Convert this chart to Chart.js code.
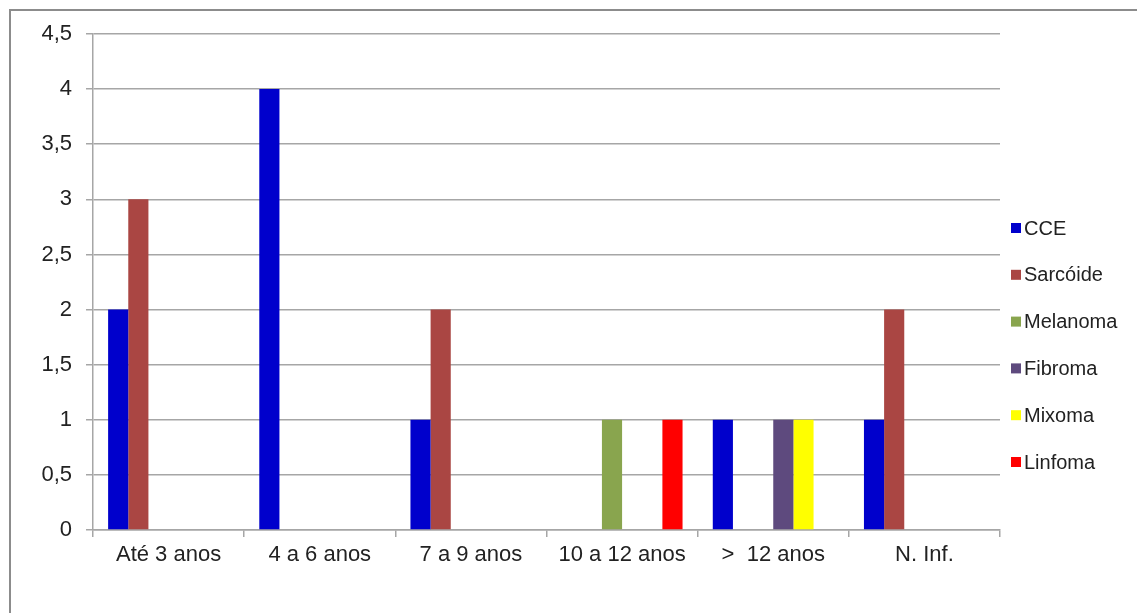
<!DOCTYPE html>
<html>
<head>
<meta charset="utf-8">
<script src="https://cdn.jsdelivr.net/npm/chart.js@4"></script>
<style>
html,body{margin:0;padding:0;background:#fff;}
#wrap{position:absolute;left:0;top:0;width:1137px;height:613px;}
#frame{position:absolute;left:9px;top:9px;width:1140px;height:620px;border-top:2px solid #8c8c8c;border-left:2px solid #8c8c8c;pointer-events:none;}
canvas{position:absolute;left:0;top:0;}
</style>
</head>
<body>
<div id="wrap"><canvas id="c" width="1137" height="613"></canvas><div id="frame"></div></div>
<script>
const categories = ["Até 3 anos", "4 a 6 anos", "7 a 9 anos", "10 a 12 anos", ">  12 anos", "N. Inf."];
const seriesNames = ["CCE", "Sarcóide", "Melanoma", "Fibroma", "Mixoma", "Linfoma"];
const cce      = [2, 4, 1, 0, 1, 1];
const sarcoide = [3, 0, 2, 0, 0, 2];
const melanoma = [0, 0, 0, 1, 0, 0];
const fibroma  = [0, 0, 0, 0, 1, 0];
const mixoma   = [0, 0, 0, 0, 1, 0];
const linfoma  = [0, 0, 0, 1, 0, 0];
const colors = ["#0000CC", "#AA4643", "#89A54E", "#5E4A7E", "#FFFF00", "#FF0000"];
const values = [cce, sarcoide, melanoma, fibroma, mixoma, linfoma];

const legendPlugin = {
  id: 'customLegend',
  afterDraw(chart) {
    const ctx = chart.ctx;
    ctx.save();
    ctx.font = '20px "Liberation Sans", Arial, sans-serif';
    ctx.textBaseline = 'middle';
    ctx.textAlign = 'left';
    const startY = 228, step = 46.8;
    chart.data.datasets.forEach((ds, i) => {
      const y = startY + i * step;
      ctx.fillStyle = ds.backgroundColor;
      ctx.fillRect(1011, y - 5, 10, 10);
      ctx.fillStyle = '#222';
      ctx.fillText(ds.label, 1024, y + 1);
    });
    ctx.restore();
  }
};

new Chart(document.getElementById('c'), {
  type: 'bar',
  data: {
    labels: categories,
    datasets: seriesNames.map((n, i) => ({
      label: n,
      data: values[i],
      backgroundColor: colors[i],
      borderWidth: 0,
      categoryPercentage: 0.8,
      barPercentage: 1.0
    }))
  },
  options: {
    responsive: false,
    animation: false,
    devicePixelRatio: 1,
    layout: { padding: { left: 13, right: 137, top: 34, bottom: 33 } },
    plugins: { legend: { display: false }, tooltip: { enabled: false } },
    scales: {
      x: {
        grid: { display: true, drawOnChartArea: false, drawTicks: true, tickLength: 7, color: '#a6a6a6', lineWidth: 1.5, offset: true },
        border: { color: '#a6a6a6', width: 1.5 },
        ticks: { color: '#222', font: { size: 22, family: '"Liberation Sans", Arial, sans-serif' }, padding: 5, maxRotation: 0 },
        afterFit(s) { s.height = 50; }
      },
      y: {
        min: 0, max: 4.5,
        grid: { color: '#a6a6a6', lineWidth: 1.5, tickLength: 7 },
        border: { color: '#a6a6a6', width: 1.5 },
        ticks: {
          stepSize: 0.5,
          color: '#222',
          padding: 14,
          font: { size: 22, family: '"Liberation Sans", Arial, sans-serif' },
          callback: v => String(v).replace('.', ',')
        },
        afterFit(s) { s.width = 80; }
      }
    }
  },
  plugins: [legendPlugin]
});
</script>
</body>
</html>
